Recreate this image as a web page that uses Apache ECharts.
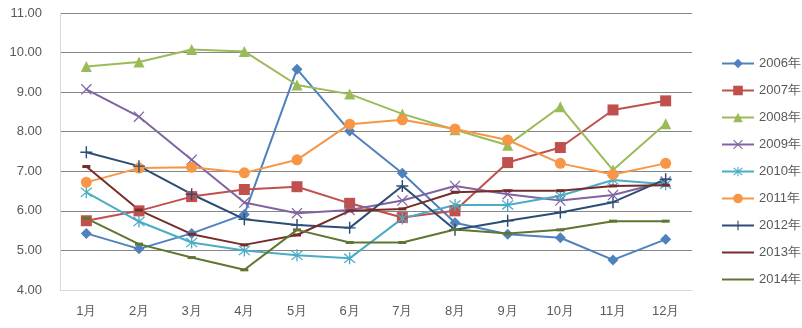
<!DOCTYPE html>
<html><head><meta charset="utf-8">
<script src="https://cdn.jsdelivr.net/npm/echarts@6/dist/echarts.min.js"></script>
<style>html,body{margin:0;padding:0;background:#fff}#c{width:802px;height:328px}</style>
</head><body><div id="c"></div>
<script>
const months = ['1月','2月','3月','4月','5月','6月','7月','8月','9月','10月','11月','12月'];
const yTicks = [4, 11, 1];
const seriesNames = ['2006年','2007年','2008年','2009年','2010年','2011年','2012年','2013年','2014年'];
const v2006 = [5.43,5.04,5.43,5.91,9.58,8.02,6.95,5.70,5.41,5.32,4.76,5.28];
const v2007 = [5.75,6.00,6.36,6.54,6.61,6.19,5.83,6.00,7.22,7.60,8.55,8.78];
const v2008 = [9.65,9.76,10.08,10.03,9.18,8.95,8.45,8.05,7.66,8.63,7.03,8.20];
const v2009 = [9.07,8.38,7.29,6.21,5.94,6.02,6.26,6.63,6.42,6.26,6.40,6.74];
const v2010 = [6.47,5.73,5.20,5.00,4.88,4.80,5.81,6.15,6.15,6.38,6.78,6.67];
const v2011 = [6.72,7.08,7.10,6.96,7.29,8.19,8.30,8.07,7.79,7.20,6.92,7.20];
const v2012 = [7.48,7.13,6.42,5.79,5.64,5.57,6.63,5.52,5.75,5.96,6.22,6.80];
const v2013 = [7.12,6.02,5.41,5.14,5.39,6.00,6.05,6.47,6.51,6.51,6.63,6.65];
const v2014 = [5.81,5.16,4.82,4.51,5.52,5.20,5.20,5.53,5.43,5.52,5.74,5.74];

const allValues = [v2006,v2007,v2008,v2009,v2010,v2011,v2012,v2013,v2014];
const colors = ['#4F81BD','#C0504D','#9BBB59','#8064A2','#4BACC6','#F79646','#2C4D75','#772C2A','#5F7530'];
const plusPath = 'path://M4.4,0H5.6V10H4.4Z M0,4.4H10V5.6H0Z';
const xPath = 'path://M0,0.8L0.8,0L10,9.2L9.2,10Z M9.2,0L10,0.8L0.8,10L0,9.2Z';
const starPath = 'path://M0,0.8L0.8,0L10,9.2L9.2,10Z M9.2,0L10,0.8L0.8,10L0,9.2Z M4.45,-1H5.55V11H4.45Z';
const symbols = ['diamond','rect','triangle',xPath,starPath,'circle',plusPath,'rect','rect'];
const sizes = [11,11,11,11,12,11,12,[8,3],[8,3]];

const chart = echarts.init(document.getElementById('c'));
chart.setOption({
  animation:false,
  color: colors,
  grid:{left:60,right:110,top:13,bottom:38},
  legend:{
    orient:'vertical', left:716, top:52, itemGap:14, itemWidth:32, itemHeight:12,
    textStyle:{color:'#595959',fontSize:13,fontFamily:'Liberation Sans, Arial, sans-serif'},
    data: seriesNames.map((n,i)=> i>=7 ? {name:n, itemStyle:{opacity:0}} : n)
  },
  xAxis:{type:'category',data:months,boundaryGap:true,
    axisLine:{lineStyle:{color:'#D9D9D9',width:1}},axisTick:{show:false},
    axisLabel:{color:'#595959',fontSize:13,margin:15,fontFamily:'Liberation Sans, Arial, sans-serif'}},
  yAxis:{type:'value',min:yTicks[0],max:yTicks[1],interval:yTicks[2],
    axisLine:{show:true,lineStyle:{color:'#D9D9D9'}},axisTick:{show:false},
    splitLine:{lineStyle:{color:'#868686',width:1}},
    axisLabel:{color:'#595959',fontSize:13,margin:18,formatter:v=>v.toFixed(2),fontFamily:'Liberation Sans, Arial, sans-serif'}},
  series: seriesNames.map((n,i)=>({
    name:n,type:'line',data:allValues[i],symbol:symbols[i],symbolSize:sizes[i],
    showAllSymbol:true,
    lineStyle:{width:2,color:colors[i]},
    itemStyle:{color:colors[i],borderWidth:0}
  }))
});
</script></body></html>
